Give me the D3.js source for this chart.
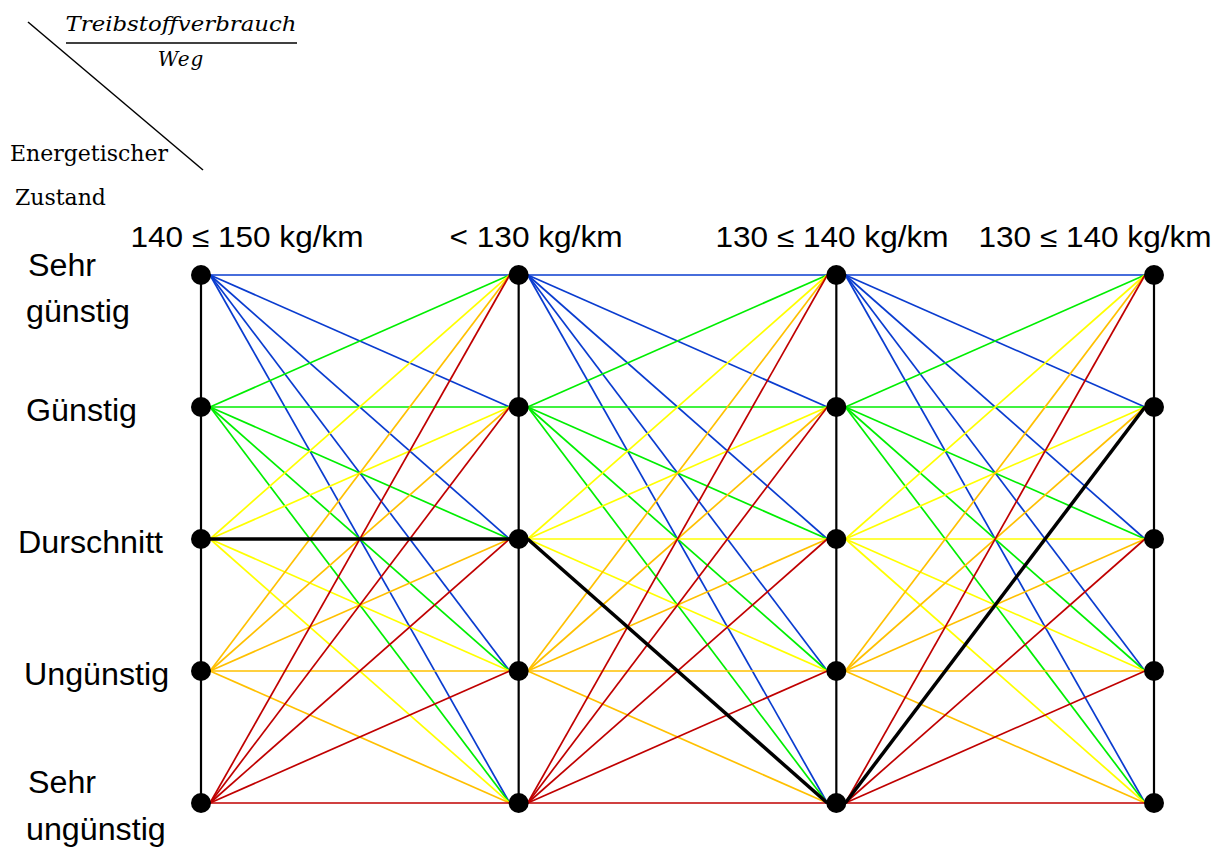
<!DOCTYPE html>
<html>
<head>
<meta charset="utf-8">
<script src="https://cdn.jsdelivr.net/npm/d3@7"></script>
<style>
  body { margin: 0; background: #fff; }
  svg text { fill: #000; }
</style>
</head>
<body>
<svg id="chart" width="1223" height="853"></svg>
<script>
// stage headers (columns) and states (rows)
const stages = ['140 ≤ 150 kg/km', '< 130 kg/km', '130 ≤ 140 kg/km', '130 ≤ 140 kg/km'];
const states = ['Sehr günstig', 'Günstig', 'Durschnitt', 'Ungünstig', 'Sehr ungünstig'];
const stateLines = [['Sehr', 'günstig'], ['Günstig'], ['Durschnitt'], ['Ungünstig'], ['Sehr', 'ungünstig']];
const stateColors = ['#0a3ccf', '#00ee00', '#ffff00', '#ffc000', '#c00000'];
// chosen path: state index per stage
const bestPath = [2, 2, 4, 1];

const svg = d3.select('#chart');

const x = d3.scalePoint()
    .domain(d3.range(stages.length))
    .range([201, 1154]);

const y = d3.scalePoint()
    .domain(d3.range(states.length))
    .range([275, 803]);

const r = 10;
const off = 9;

// vertical column lines
svg.append('g')
    .selectAll('line')
    .data(stages)
    .join('line')
        .attr('x1', (d, i) => x(i))
        .attr('x2', (d, i) => x(i))
        .attr('y1', y(0))
        .attr('y2', y(states.length - 1))
        .attr('stroke', '#000')
        .attr('stroke-width', 2.2);

// every transition between neighbouring stages, coloured by source state
const edges = [];
for (let c = 0; c < stages.length - 1; c++) {
    states.forEach((s, from) => {
        states.forEach((t, to) => edges.push({ c, from, to }));
    });
}

svg.append('g')
    .selectAll('line')
    .data(edges)
    .join('line')
        .attr('x1', d => x(d.c) + off)
        .attr('y1', d => y(d.from))
        .attr('x2', d => x(d.c + 1) - off)
        .attr('y2', d => y(d.to))
        .attr('stroke', d => stateColors[d.from])
        .attr('stroke-width', 1.7);

// highlighted path
const pathEdges = d3.pairs(bestPath.map((s, c) => ({ c, s })));
svg.append('g')
    .selectAll('line')
    .data(pathEdges)
    .join('line')
        .attr('x1', d => x(d[0].c) + off)
        .attr('y1', d => y(d[0].s))
        .attr('x2', d => x(d[1].c) - off)
        .attr('y2', d => y(d[1].s))
        .attr('stroke', '#000')
        .attr('stroke-width', 3.5);

// nodes
const nodes = [];
stages.forEach((s, c) => states.forEach((t, i) => nodes.push({ c, i })));
svg.append('g')
    .selectAll('circle')
    .data(nodes)
    .join('circle')
        .attr('cx', d => x(d.c))
        .attr('cy', d => y(d.i))
        .attr('r', r)
        .attr('fill', '#000');

// stage headers
const headerCenters = [247, 536, 832, 1095];
svg.append('g')
    .selectAll('text')
    .data(stages)
    .join('text')
        .attr('x', (d, i) => headerCenters[i])
        .attr('y', 247)
        .attr('text-anchor', 'middle')
        .attr('font-family', 'Liberation Sans, Arial, sans-serif')
        .attr('font-size', 29)
        .attr('textLength', d => d.startsWith('<') ? 173 : 233)
        .attr('lengthAdjust', 'spacingAndGlyphs')
        .text(d => d);

// state labels
const labelX = [28, 26, 18, 24, 28];
const labelG = svg.append('g')
    .attr('font-family', 'Liberation Sans, Arial, sans-serif')
    .attr('font-size', 31);
stateLines.forEach((lines, i) => {
    lines.forEach((ln, k) => {
        const yy = lines.length === 2
            ? (i === 0 ? 276 + k * 46 : y(i) - 10 + k * 47)
            : y(i) + 14;
        labelG.append('text')
            .attr('x', k === 0 ? labelX[i] : 26)
            .attr('y', yy)
            .attr('transform', `translate(${k === 0 ? labelX[i] : 26},0) scale(1.04,1) translate(${-(k === 0 ? labelX[i] : 26)},0)`)
            .text(ln);
    });
});

// corner header
const corner = svg.append('g');
corner.append('line')
    .attr('x1', 28).attr('y1', 22)
    .attr('x2', 203).attr('y2', 170)
    .attr('stroke', '#000')
    .attr('stroke-width', 1.5);
corner.append('text')
    .attr('x', 181).attr('y', 31)
    .attr('text-anchor', 'middle')
    .attr('font-family', 'DejaVu Serif, serif')
    .attr('font-style', 'italic')
    .attr('font-size', 20)
    .attr('textLength', 231)
    .attr('lengthAdjust', 'spacingAndGlyphs')
    .text('Treibstoffverbrauch');
corner.append('line')
    .attr('x1', 66).attr('y1', 43)
    .attr('x2', 297).attr('y2', 43)
    .attr('stroke', '#000')
    .attr('stroke-width', 1.3);
corner.append('text')
    .attr('x', 181).attr('y', 66)
    .attr('text-anchor', 'middle')
    .attr('font-family', 'DejaVu Serif, serif')
    .attr('font-style', 'italic')
    .attr('font-size', 20)
    .attr('letter-spacing', 1)
    .text('Weg');
corner.append('text')
    .attr('x', 10).attr('y', 161)
    .attr('font-family', 'DejaVu Serif, serif')
    .attr('font-size', 22)
    .text('Energetischer');
corner.append('text')
    .attr('x', 15).attr('y', 205)
    .attr('font-family', 'DejaVu Serif, serif')
    .attr('font-size', 22)
    .text('Zustand');
</script>
</body>
</html>
